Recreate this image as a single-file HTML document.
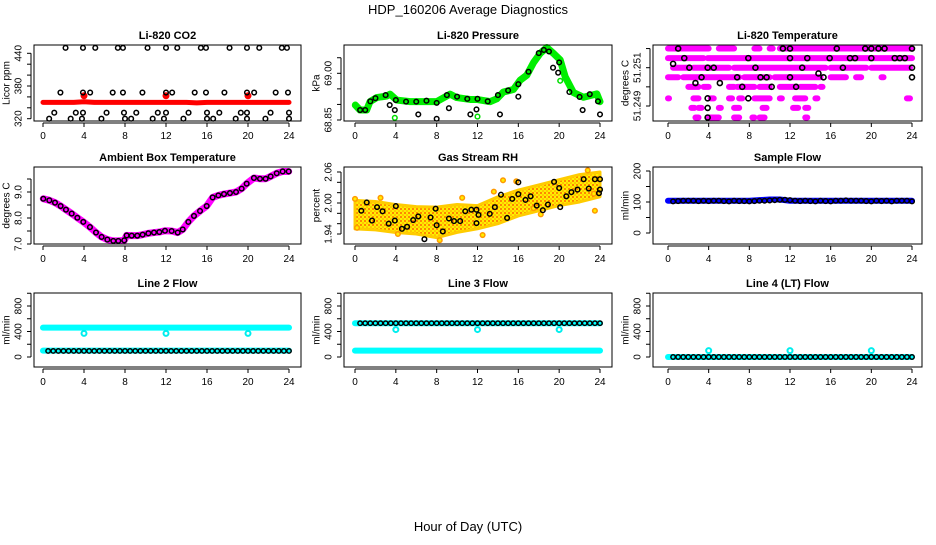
<!DOCTYPE html>
<html><head><meta charset="utf-8"><title>HDP_160206 Average Diagnostics</title>
<style>
html,body{margin:0;padding:0;background:#fff;}
svg text{font-family:"Liberation Sans",Arial,sans-serif;}
</style></head>
<body>
<svg id="chart" width="936" height="540" viewBox="0 0 936 540" xmlns="http://www.w3.org/2000/svg">
<defs>
<pattern id="rhpat" width="4" height="4" patternUnits="userSpaceOnUse">
<rect width="4" height="4" fill="#ffee00"/>
<circle cx="1" cy="1" r="1" fill="#ff6600"/>
<circle cx="3" cy="3" r="0.8" fill="#ff9900"/>
</pattern>
</defs>
<rect width="936" height="540" fill="#fff"/>
<text x="468" y="14" text-anchor="middle" font-size="13">HDP_160206  Average Diagnostics</text>
<text x="468" y="531" text-anchor="middle" font-size="13">Hour of Day (UTC)</text>
<g id="plots"></g>
</svg>
<script>
// ---------- shared data ----------
const xTicks = [0,4,8,12,16,20,24];
const halfHours = [0.5,1,1.5,2,2.5,3,3.5,4,4.5,5,5.5,6,6.5,7,7.5,8,8.5,9,9.5,10,10.5,11,11.5,12,12.5,13,13.5,14,14.5,15,15.5,16,16.5,17,17.5,18,18.5,19,19.5,20,20.5,21,21.5,22,22.5,23,23.5,24];
const hourly = [0,1,2,3,4,5,6,7,8,9,10,11,12,13,14,15,16,17,18,19,20,21,22,23,24];
const dipHours = [4,12,20];

// CO2
const co2RedV = [350,350,350,350,351,350,350,350,350,350,350,350,350,350,350,349,350,350,350,350,350,350,350,350,350];
const co2RedDipV = [362,362,362];
const co2BlackH = [2.2,3.9,5.1,7.3,7.8,10.2,12,13.1,15.4,15.9,18.2,19.9,21.1,23.3,23.8,
  1.7,3.9,4.6,6.8,7.8,9.7,12,12.6,14.8,15.9,17.7,19.9,20.6,22.7,23.9,
  1.1,3.2,3.9,6.2,7.9,9.1,11.2,12,14.2,16,17.2,19.3,19.9,22.2,24,
  0.6,2.7,3.8,5.7,8,8.6,10.7,11.8,13.7,16,16.6,18.8,19.9,21.7,24];
const co2BlackV = [450,450,450,450,450,450,450,450,450,450,450,450,450,450,450,
  368,368,368,368,368,368,368,368,368,368,368,368,368,368,368,
  331,331,331,331,331,331,331,331,331,331,331,331,331,331,331,
  320,320,320,320,320,320,320,320,320,320,320,320,320,320,320];

// Pressure
const presGreenH = [0.03,0.49,1.14,1.47,2.12,3.1,3.43,4.08,5.39,6.7,8.0,9.31,9.97,11.27,11.93,13.24,13.89,14.54,15.52,16.18,16.83,17.48,18.14,18.79,19.44,20.1,20.59,21.4,22.39,23.69,24.0];
const presGreenV = [68.898,68.882,68.882,68.909,68.922,68.927,68.933,68.914,68.909,68.909,68.909,68.933,68.922,68.916,68.916,68.909,68.918,68.940,68.948,68.978,68.994,69.034,69.064,69.083,69.064,69.043,68.989,68.938,68.923,68.934,68.909];
const presGreenOutH = [3.9,12,20.1];
const presGreenOutV = [68.857,68.861,68.976];
const presBlackH = [0.5,1,1.5,2,3,4,5,6,7,8,9,10,11,12,13,14,15,16,17,18,18.5,19,20,21,22,23,23.8,
  3.4,3.9,6.2,8,9.2,11.3,11.9,14.2,16,19.4,19.9,22.3,24];
const presBlackV = [68.882,68.882,68.91,68.92,68.93,68.914,68.909,68.909,68.912,68.905,68.93,68.925,68.918,68.918,68.91,68.93,68.945,68.965,69.005,69.065,69.075,69.07,69.035,68.94,68.924,68.933,68.91,
  68.898,68.882,68.868,68.854,68.888,68.868,68.884,68.868,68.925,69.018,69.002,68.882,68.868];

// Li-820 temperature (magenta runs per level)
const tempLevels = [51.2520,51.2515,51.2510,51.2505,51.2500,51.2494,51.2489,51.2484];
const tempRuns = [
  [[0,4],[5,6.5],[8.5,9],[10,10.3],[11,24]],
  [[0,3.5],[3.9,12.2],[12.4,24]],
  [[0.5,2.2],[2.5,6],[6.5,15.5],[16,19.5],[20,23.8]],
  [[0,1],[1.5,7],[7.5,10],[10.5,15],[16,17.5],[18.5,19],[21,21.2]],
  [[2,3],[3.5,4],[6,6.5],[6.8,8.5],[9,10],[11,12.5],[13,14.5],[15,15.2]],
  [[0,0.1],[2.5,3],[4.2,4.5],[6,6.3],[7,7.3],[8.5,10],[11,11.2],[12.5,13.5],[14.5,14.7],[23.5,23.8]],
  [[2.3,2.6],[3,3.3],[5,5.2],[6.5,7],[9.3,9.7],[12.3,12.8],[13.5,13.8]],
  [[2.7,3],[4,5],[6.5,7],[8.3,8.5],[9,9.5],[13.5,13.7]]
];
const tempBlackH = [1.0,1.6,0.5,2.1,2.7,3.3,3.9,3.9,3.9,3.9,4.5,5.1,6.8,7.3,7.9,7.9,8.6,9.1,9.7,10.2,11.3,12.0,12,12,12.6,13.2,13.7,14.8,15.3,15.9,16.6,17.2,17.9,18.4,19.4,20.0,20.0,20.7,21.3,22.3,22.8,23.3,24,24,24];
const tempBlackV = [51.2520,51.2515,51.2512,51.2510,51.2502,51.2505,51.2510,51.2494,51.2489,51.2484,51.2510,51.2502,51.2505,51.2500,51.2515,51.2494,51.2510,51.2505,51.2505,51.2500,51.2520,51.2520,51.2515,51.2505,51.2500,51.2510,51.2515,51.2507,51.2505,51.2515,51.2520,51.2510,51.2515,51.2515,51.2520,51.2520,51.2515,51.2520,51.2520,51.2515,51.2515,51.2515,51.2520,51.2510,51.2505];

// Ambient box temperature
const ambH = [0.03,0.62,1.17,1.72,2.24,2.80,3.35,3.93,4.58,5.17,5.72,6.28,6.86,7.35,7.93,8.16,8.65,9.20,9.72,10.28,10.83,11.35,11.90,12.55,13.14,13.63,14.18,14.73,15.32,15.97,16.55,17.11,17.66,18.24,18.83,19.38,19.87,20.58,21.17,21.72,22.21,22.80,23.38,23.97];
const ambV = [8.74,8.68,8.59,8.46,8.32,8.17,8.01,7.85,7.65,7.44,7.27,7.17,7.12,7.12,7.14,7.33,7.32,7.32,7.36,7.41,7.44,7.46,7.51,7.50,7.44,7.56,7.85,8.08,8.27,8.46,8.79,8.87,8.92,8.96,9.00,9.13,9.32,9.54,9.51,9.51,9.60,9.72,9.79,9.79];

// Gas stream RH
const rhEnvH = [0,2,4,6,8,10,12,14,16,18,20,22,24];
const rhUpper = [2.005,2.003,1.997,1.993,1.992,1.997,1.995,2.012,2.025,2.035,2.045,2.055,2.06];
const rhLower = [1.950,1.948,1.943,1.940,1.933,1.943,1.950,1.960,1.975,1.985,1.995,2.002,2.012];
const rhOutH = [0,0.2,2.5,4.2,8.3,10.5,12.5,13.6,14.5,15.8,17.5,18.2,22.8,23.5,23.4];
const rhOutV = [2.008,1.952,2.01,1.94,1.928,2.01,1.938,2.022,2.044,2.042,1.99,1.978,2.063,1.985,2.018];
const rhBlackH = [0.62,1.15,1.67,2.16,2.7,3.3,3.9,4.0,4.6,5.1,5.7,6.2,6.8,7.4,7.9,8,8.6,9.2,9.7,10.3,10.8,11.4,11.9,11.9,12.1,13.2,13.7,14.3,14.9,15.4,16,16.0,16.7,17.2,17.8,18.4,18.9,19.5,20,20.1,20.7,21.2,21.8,22.4,22.9,23.5,24,24,23.9];
const rhBlackV = [1.985,2.001,1.966,1.992,1.984,1.960,1.966,1.994,1.950,1.954,1.967,1.974,1.930,1.972,1.989,1.957,1.945,1.970,1.965,1.965,1.984,1.987,1.987,1.961,1.977,1.979,1.992,2.016,1.971,2.008,2.040,2.017,2.006,2.013,1.995,1.986,1.997,2.041,2.029,1.992,2.013,2.021,2.026,2.046,2.028,2.046,2.046,2.026,2.019];

// Sample flow
const sfBlueV = [104,104,104,104,104,104,104,104,104,106,108,108,104,104,104,104,104,104,104,104,104,104,104,104,104];
const sfBlackV = [102,103,104,104,104,103,104,103,104,104,103,102,104,103,103,102,103,104,104,105,106,107,107,106,104,103,104,103,102,104,103,102,104,104,105,104,104,104,103,102,104,103,104,102,104,104,104,102];

// Line flows
const l2CyanTopV = [460,460,460,460,460,460,460,460,460,460,460,460,460,460,460,460,460,460,460,460,460,460,460,460,460];
const l2CyanLowV = [100,100,100,100,100,100,100,100,100,100,100,100,100,100,100,100,100,100,100,100,100,100,100,100,100];
const l2DipV = [370,370,370];
const l2BlackV = [95,95,95,95,95,95,95,95,95,95,95,95,95,95,95,95,95,95,95,95,95,95,95,95,95,95,95,95,95,95,95,95,95,95,95,95,95,95,95,95,95,95,95,95,95,95,95,95];
const l3CyanTopV = [530,530,530,530,530,530,530,530,530,530,530,530,530,530,530,530,530,530,530,530,530,530,530,530,530];
const l3CyanLowV = [100,100,100,100,100,100,100,100,100,100,100,100,100,100,100,100,100,100,100,100,100,100,100,100,100];
const l3DipV = [430,430,430];
const l3BlackV = [530,530,530,530,530,530,530,530,530,530,530,530,530,530,530,530,530,530,530,530,530,530,530,530,530,530,530,530,530,530,530,530,530,530,530,530,530,530,530,530,530,530,530,530,530,530,530,530];
const l4CyanV = [0,0,0,0,0,0,0,0,0,0,0,0,0,0,0,0,0,0,0,0,0,0,0,0,0];
const l4DipV = [100,100,100];
const l4BlackV = [0,0,0,0,0,0,0,0,0,0,0,0,0,0,0,0,0,0,0,0,0,0,0,0,0,0,0,0,0,0,0,0,0,0,0,0,0,0,0,0,0,0,0,0,0,0,0,0];

// ---------- drawing ----------
const NS = 'http://www.w3.org/2000/svg';
const root = document.getElementById('plots');
function mk(tag, attrs, parent){
  const e = document.createElementNS(NS, tag);
  for (const k in attrs) e.setAttribute(k, attrs[k]);
  (parent||root).appendChild(e);
  return e;
}
const cols = [{l:34,r:301,x0:43,x24:289},{l:344,r:612,x0:355,x24:600},{l:653,r:922,x0:668,x24:912}];
const rows = [{t:45,b:121},{t:167,b:244},{t:293,b:367}];

function panel(name, title, ylab, c, r, v1, y1, v2, y2, yTicks, yLabels){
  const C = cols[c], R = rows[r];
  const g = mk('g', {});
  
  
  const xs = h => C.x0 + (C.x24 - C.x0) * h / 24;
  const ys = v => y1 + (v - v1) * (y2 - y1) / (v2 - v1);
  const plot = mk('g', {}, g);
  
  
  const box = mk('rect', {x:C.l, y:R.t, width:C.r-C.l, height:R.b-R.t, fill:'none', stroke:'#000', 'stroke-width':1}, g);
  
  
  const t = mk('text', {x:(C.l+C.r)/2, y:R.t-6, 'text-anchor':'middle', 'font-size':11, 'font-weight':'bold'}, g);
  t.textContent = title;
  
  
  // x axis
  const xa = mk('g', {}, g);
  
  
  const ay = R.b + 2;
  mk('line', {x1:xs(xTicks[0]), x2:xs(xTicks[xTicks.length-1]), y1:ay, y2:ay, stroke:'#000'}, xa);
  xTicks.forEach(v => {
    mk('line', {x1:xs(v), x2:xs(v), y1:ay, y2:ay+4, stroke:'#000'}, xa);
    const tl = mk('text', {x:xs(v), y:R.b+18, 'text-anchor':'middle', 'font-size':10}, xa);
    tl.textContent = v;
    
    
  });
  // y axis
  const ya = mk('g', {}, g);
  
  
  const ax = C.l - 3;
  mk('line', {x1:ax, x2:ax, y1:ys(yTicks[0]), y2:ys(yTicks[yTicks.length-1]), stroke:'#000'}, ya);
  yTicks.forEach(v => mk('line', {x1:ax-4, x2:ax, y1:ys(v), y2:ys(v), stroke:'#000'}, ya));
  yLabels.forEach(l => {
    const yy = ys(parseFloat(l));
    const tl = mk('text', {x:C.l-15, y:yy, 'text-anchor':'middle', 'dominant-baseline':'central', 'font-size':10, transform:'rotate(-90 '+(C.l-15)+' '+yy+')'}, ya);
    tl.textContent = l;
    
    
  });
  const yc = (R.t+R.b)/2;
  const yl = mk('text', {x:C.l-27, y:yc, 'text-anchor':'middle', 'dominant-baseline':'central', 'font-size':10, transform:'rotate(-90 '+(C.l-27)+' '+yc+')'}, g);
  yl.textContent = ylab;
  
  
  return {plot, xs, ys};
}
function pts(P, H, V, color, r, sw, fill, label){
  const g = mk('g', {}, P.plot);
  
  
  H.forEach((h,i) => {
    const c = mk('circle', {cx:P.xs(h), cy:P.ys(V[i]), r:r, fill:fill||'none', stroke:color, 'stroke-width':sw}, g);
    
    
  });
}
function band(P, H, V, color, w, label){
  const p = mk('polyline', {points:H.map((h,i)=>P.xs(h)+','+P.ys(V[i])).join(' '), fill:'none', stroke:color, 'stroke-width':w, 'stroke-linecap':'round', 'stroke-linejoin':'round'}, P.plot);
  
  
}

// Panel 1: CO2
let P = panel('co2', 'Li-820 CO2', 'Licor ppm', 0, 0, 320, 118.7, 440, 53.3, [320,340,360,380,400,420,440], ['320','380','440']);
band(P, hourly, co2RedV, '#ff0000', 5, 'co2-red-band');
pts(P, dipHours, co2RedDipV, '#ff0000', 2.5, 2, '#ff0000', 'co2-red-spikes');
pts(P, co2BlackH, co2BlackV, '#000', 2.3, 1.5, null, 'co2-black-points');

// Panel 2: pressure
P = panel('pressure', 'Li-820 Pressure', 'kPa', 1, 0, 68.85, 120, 69.00, 73.3, [68.85,68.90,68.95,69.00,69.05], ['68.85','69.00']);
band(P, presGreenH, presGreenV, '#00ee00', 7, 'pressure-green-band');
pts(P, presGreenOutH, presGreenOutV, '#00dd00', 2.3, 1.5, null, 'pressure-green-outliers');
pts(P, presBlackH, presBlackV, '#000', 2.3, 1.5, null, 'pressure-black-points');

// Panel 3: Li-820 temperature
P = panel('li820-temp', 'Li-820 Temperature', 'degrees C', 2, 0, 51.249, 106, 51.251, 67.7, [51.249,51.250,51.251,51.252], ['51.249','51.251']);
tempRuns.forEach((runs, li) => runs.forEach(rg => {
  const ln = mk('line', {x1:P.xs(rg[0]), x2:P.xs(rg[1]), y1:P.ys(tempLevels[li]), y2:P.ys(tempLevels[li]), stroke:'#ff00ff', 'stroke-width':6, 'stroke-linecap':'round'}, P.plot);
  
  
}));
pts(P, tempBlackH, tempBlackV, '#000', 2.5, 1.6, null, 'temp-black-points');

// Panel 4: ambient
P = panel('ambient', 'Ambient Box Temperature', 'degrees C', 0, 1, 7.0, 244, 9.0, 192, [7.0,7.5,8.0,8.5,9.0,9.5], ['7.0','8.0','9.0']);
band(P, ambH, ambV, '#ff00ff', 7, 'ambient-magenta-band');
pts(P, ambH, ambV, '#000', 2.3, 1.5, null, 'ambient-black-points');

// Panel 5: RH
P = panel('rh', 'Gas Stream RH', 'percent', 1, 1, 1.94, 234, 2.06, 172, [1.94,1.96,1.98,2.00,2.02,2.04,2.06], ['1.94','2.00','2.06']);
const env = rhEnvH.map((h,i)=>P.xs(h)+','+P.ys(rhUpper[i])).concat(rhEnvH.slice().reverse().map((h,i)=>P.xs(h)+','+P.ys(rhLower[rhLower.length-1-i])));
const poly = mk('polygon', {points:env.join(' '), fill:'url(#rhpat)', stroke:'#ffcc00', 'stroke-width':3, 'stroke-linejoin':'round'}, P.plot);


pts(P, rhOutH, rhOutV, '#ff9900', 2.3, 1.5, '#ffee00', 'rh-orange-outliers');
pts(P, rhBlackH, rhBlackV, '#000', 2.3, 1.5, null, 'rh-black-points');

// Panel 6: sample flow
P = panel('sample-flow', 'Sample Flow', 'ml/min', 2, 1, 0, 233, 200, 171, [0,50,100,150,200], ['0','100','200']);
band(P, hourly, sfBlueV, '#0000ff', 6, 'sample-flow-blue-band');
pts(P, halfHours, sfBlackV, '#000', 2.3, 1.5, null, 'sample-flow-black-points');

const flowTicks = [0,200,400,600,800,1000];
const flowLabels = ['0','400','800'];
// Panel 7: line 2
P = panel('line2', 'Line 2 Flow', 'ml/min', 0, 2, 0, 357, 800, 306, flowTicks, flowLabels);
band(P, hourly, l2CyanTopV, '#00ffff', 6, 'line2-cyan-top');
band(P, hourly, l2CyanLowV, '#00ffff', 6, 'line2-cyan-low');
pts(P, dipHours, l2DipV, '#00eeee', 2.5, 2, null, 'line2-cyan-dips');
pts(P, halfHours, l2BlackV, '#000', 2.2, 1.5, null, 'line2-black-points');

// Panel 8: line 3
P = panel('line3', 'Line 3 Flow', 'ml/min', 1, 2, 0, 357, 800, 306, flowTicks, flowLabels);
band(P, hourly, l3CyanTopV, '#00ffff', 6, 'line3-cyan-top');
band(P, hourly, l3CyanLowV, '#00ffff', 6, 'line3-cyan-low');
pts(P, dipHours, l3DipV, '#00eeee', 2.5, 2, null, 'line3-cyan-dips');
pts(P, halfHours, l3BlackV, '#000', 2.2, 1.5, null, 'line3-black-points');

// Panel 9: line 4
P = panel('line4', 'Line 4 (LT) Flow', 'ml/min', 2, 2, 0, 357, 800, 306, flowTicks, flowLabels);
band(P, hourly, l4CyanV, '#00ffff', 6, 'line4-cyan-band');
pts(P, dipHours, l4DipV, '#00eeee', 2.5, 2, null, 'line4-cyan-dips');
pts(P, halfHours, l4BlackV, '#000', 2.2, 1.5, null, 'line4-black-points');
</script>
</body></html>
